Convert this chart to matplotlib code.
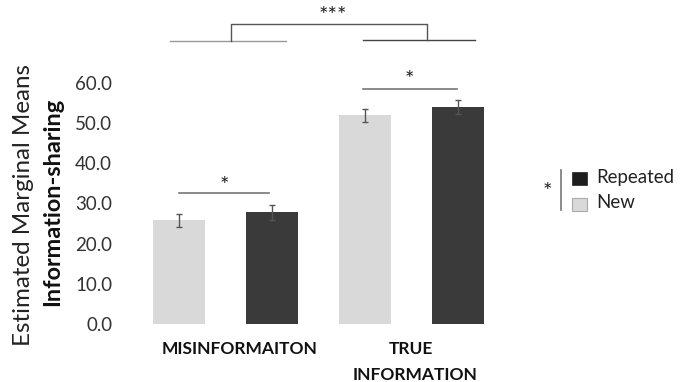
import numpy as np
import matplotlib
matplotlib.use("Agg")
import matplotlib.pyplot as plt
from matplotlib.patches import Rectangle
from matplotlib.lines import Line2D

plt.rcParams["font.family"] = ["Lato", "DejaVu Sans"]

categories = ["MISINFORMAITON", "TRUE", "INFORMATION"]
new_means = [25.8, 52.0]
new_err = [1.7, 1.6]
rep_means = [27.8, 54.1]
rep_err = [1.8, 1.75]
yticks = [0, 10, 20, 30, 40, 50, 60]

NEW, REP = "#d9d9d9", "#3a3a3a"
W, H = 688, 382

fig = plt.figure(figsize=(W / 100, H / 100), dpi=100)


def fx(px):
    return px / W


def fy(py):
    return 1 - py / H


# axes: 0 at y=324px, 4.0167 px per unit, bars 93 px apart
xmin = -39 / 93
ax = fig.add_axes([fx(140), fy(324), fx(360), 80 * 4.0167 / H])
ax.set_xlim(xmin, xmin + 360 / 93)
ax.set_ylim(0, 80)

x_new = np.array([0, 2])
x_rep = np.array([1, 3])
bw = 52 / 93
ekw = dict(ecolor="#555555", elinewidth=1, capsize=2.3, capthick=1)
ax.bar(x_new, new_means, bw, color=NEW, yerr=new_err, error_kw=ekw)
ax.bar(x_rep, rep_means, bw, color=REP, yerr=rep_err, error_kw=ekw)

for s in ax.spines.values():
    s.set_visible(False)
ax.set_xticks([])
ax.set_yticks(yticks)
ax.set_yticklabels(["%.1f" % v for v in yticks], fontsize=13.5, color="#333333")
ax.tick_params(axis="y", length=0, pad=20)

# within-category comparisons
ax.plot([0, 0.97], [32.7, 32.7], color="#777777", lw=1.2, clip_on=False)
ax.text(0.49, 34.3, "*", ha="center", va="center", fontsize=16, color="#222222")
ax.plot([1.98, 2.99], [58.5, 58.5], color="#777777", lw=1.2, clip_on=False)
ax.text(2.48, 60.8, "*", ha="center", va="center", fontsize=16, color="#222222")

# between-category comparison
ax.plot([-0.097, 1.15], [70.45, 70.45], color="#999999", lw=1, clip_on=False)
ax.plot([1.978, 3.183], [70.6, 70.6], color="#444444", lw=1, clip_on=False)
ax.plot([0.559, 0.559, 2.667, 2.667], [70.45, 74.7, 74.7, 70.6],
        color="#555555", lw=1, clip_on=False)
ax.text(1.656, 76.6, "***", ha="center", va="center", fontsize=16, color="#222222")

# category labels
lab = dict(ha="center", va="center", fontsize=12.5, fontweight="bold", color="#111111")
ax.text((240 - 179) / 93, -6.3, categories[0], **lab)
ax.text((411 - 179) / 93, -6.3, categories[1], **lab)
ax.text((415 - 179) / 93, -12.6, categories[2], **lab)

# y labels
fig.text(fx(24), fy(205), "Estimated Marginal Means", rotation=90,
         ha="center", va="center", fontsize=17.4, color="#222222")
fig.text(fx(53), fy(202), "Information-sharing", rotation=90,
         ha="center", va="center", fontsize=16.9, fontweight="bold", color="#111111")

# legend
fig.text(fx(547), fy(192), "*", ha="center", va="center", fontsize=16, color="#222222")
fig.add_artist(Line2D([fx(561), fx(561)], [fy(170), fy(210)], color="#777777", lw=1.2))
fig.add_artist(Rectangle((fx(572), fy(185)), fx(15), 13 / H, facecolor="#1e1e1e",
                         edgecolor="#1e1e1e", lw=0.5))
fig.add_artist(Rectangle((fx(572), fy(211)), fx(15), 13 / H, facecolor=NEW,
                         edgecolor="#aaaaaa", lw=0.8))
fig.text(fx(596), fy(177), "Repeated", ha="left", va="center", fontsize=13.4, color="#222222")
fig.text(fx(596), fy(203), "New", ha="left", va="center", fontsize=13.4, color="#222222")

fig.savefig("out.png", dpi=100)
